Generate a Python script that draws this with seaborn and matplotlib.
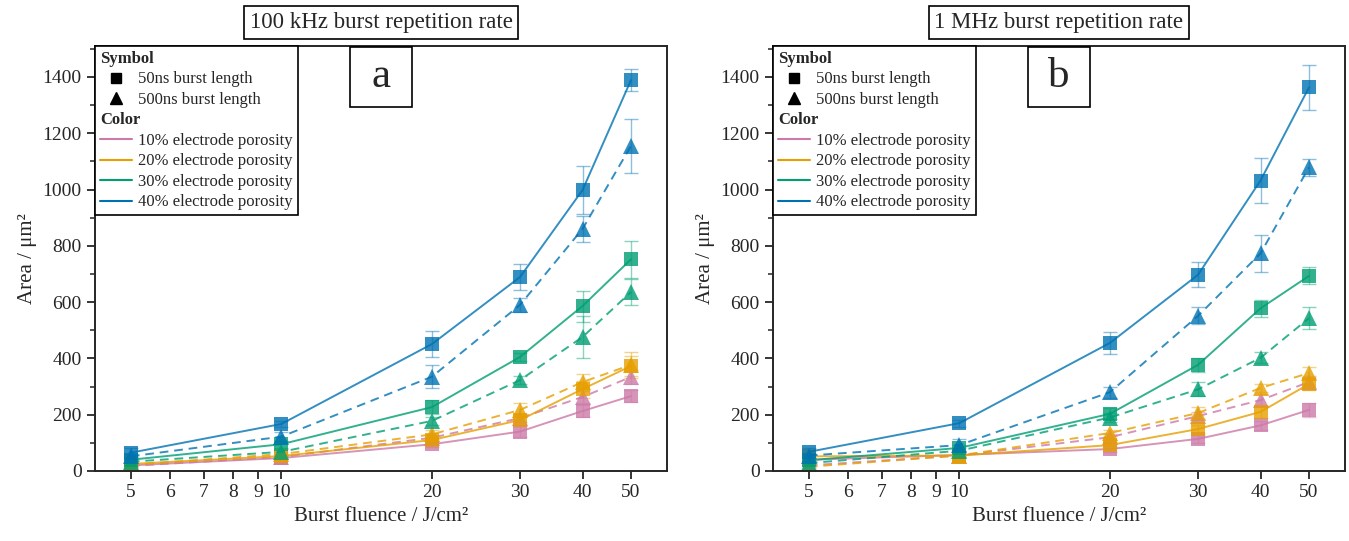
import numpy as np
import pandas as pd
import matplotlib
matplotlib.use("Agg")
import matplotlib.pyplot as plt
import matplotlib.ticker as mticker
from matplotlib.lines import Line2D
from matplotlib.patches import Rectangle
import seaborn as sns

fluence = [5, 10, 20, 30, 40, 50]
porosities = ["10%", "20%", "30%", "40%"]
lengths = ["50ns", "500ns"]
colors = ["#CC79A7", "#E69F00", "#009E73", "#0072B2"]

# 100 kHz panel: mean area and error per porosity / burst length
area_100k = {
    ("10%", "50ns"): [20, 46, 95, 140, 213, 266],
    ("10%", "500ns"): [18, 50, 118, 188, 263, 334],
    ("20%", "50ns"): [25, 53, 110, 181, 291, 373],
    ("20%", "500ns"): [22, 60, 130, 217, 316, 377],
    ("30%", "50ns"): [40, 95, 227, 405, 586, 752],
    ("30%", "500ns"): [33, 68, 178, 323, 476, 636],
    ("40%", "50ns"): [65, 167, 451, 689, 998, 1389],
    ("40%", "500ns"): [52, 122, 335, 590, 860, 1155],
}
err_100k = {
    ("10%", "50ns"): [5, 6, 10, 20, 20, 20],
    ("10%", "500ns"): [5, 6, 10, 15, 20, 25],
    ("20%", "50ns"): [5, 6, 12, 20, 30, 35],
    ("20%", "500ns"): [5, 6, 15, 25, 30, 45],
    ("30%", "50ns"): [8, 12, 25, 15, 55, 65],
    ("30%", "500ns"): [6, 10, 15, 15, 75, 45],
    ("40%", "50ns"): [15, 12, 45, 45, 85, 40],
    ("40%", "500ns"): [10, 15, 40, 25, 45, 95],
}

# 1 MHz panel
area_1m = {
    ("10%", "50ns"): [40, 57, 78, 114, 162, 217],
    ("10%", "500ns"): [20, 55, 120, 195, 252, 316],
    ("20%", "50ns"): [52, 55, 92, 149, 210, 309],
    ("20%", "500ns"): [15, 55, 135, 206, 295, 348],
    ("30%", "50ns"): [38, 82, 203, 377, 578, 693],
    ("30%", "500ns"): [28, 72, 190, 290, 402, 543],
    ("40%", "50ns"): [68, 170, 455, 697, 1032, 1363],
    ("40%", "500ns"): [55, 92, 280, 551, 773, 1079],
}
err_1m = {
    ("10%", "50ns"): [5, 5, 10, 15, 15, 25],
    ("10%", "500ns"): [5, 5, 10, 15, 20, 20],
    ("20%", "50ns"): [5, 5, 10, 15, 20, 20],
    ("20%", "500ns"): [5, 5, 10, 20, 15, 20],
    ("30%", "50ns"): [8, 10, 20, 25, 30, 30],
    ("30%", "500ns"): [6, 10, 15, 25, 20, 40],
    ("40%", "50ns"): [12, 12, 40, 45, 80, 80],
    ("40%", "500ns"): [10, 20, 20, 30, 65, 30],
}


def to_frame(area, err):
    rows = []
    for (p, l), vals in area.items():
        for x, v, e in zip(fluence, vals, err[(p, l)]):
            rows.append({"fluence": x, "area": v, "err": e, "porosity": p, "length": l})
    return pd.DataFrame(rows)


sns.set_style("ticks")
plt.rcParams["font.family"] = ["Liberation Serif", "DejaVu Serif"]

fig = plt.figure(figsize=(13.49, 5.41), dpi=100)
ax_a = fig.add_axes([0.0704, 0.1294, 0.4240, 0.7856])
ax_b = fig.add_axes([0.5730, 0.1294, 0.4240, 0.7856])

palette = dict(zip(porosities, colors))
markers = {"50ns": "s", "500ns": "^"}
dashes = {"50ns": "", "500ns": (4.5, 3)}

panels = [
    (ax_a, to_frame(area_100k, err_100k), "100 kHz burst repetition rate", "a"),
    (ax_b, to_frame(area_1m, err_1m), "1 MHz burst repetition rate", "b"),
]

for ax, df, title, letter in panels:
    # error bars first, lighter
    for (p, l), g in df.groupby(["porosity", "length"]):
        ax.errorbar(g["fluence"], g["area"], yerr=g["err"], fmt="none",
                    ecolor=palette[p], alpha=0.45, elinewidth=1.0, capsize=5, capthick=1.0)
    sns.lineplot(data=df, x="fluence", y="area", hue="porosity", style="length",
                 palette=palette, markers=markers, dashes=dashes, hue_order=porosities,
                 style_order=lengths, markersize=9.5, markeredgewidth=0, alpha=0.8,
                 linewidth=1.4, legend=False, ax=ax)
    for ln in ax.get_lines():
        if ln.get_marker() == "^":
            ln.set_markersize(11.5)

    ax.set_xscale("log")
    ax.set_xlim(4.24, 59.0)
    ax.set_ylim(0, 1510)
    ax.xaxis.set_major_locator(mticker.FixedLocator([5, 6, 7, 8, 9, 10, 20, 30, 40, 50]))
    ax.xaxis.set_major_formatter(mticker.FixedFormatter(["5", "6", "7", "8", "9", "10", "20", "30", "40", "50"]))
    ax.xaxis.set_minor_locator(mticker.NullLocator())
    ax.yaxis.set_major_locator(mticker.MultipleLocator(200))
    ax.yaxis.set_minor_locator(mticker.MultipleLocator(100))
    ax.tick_params(axis="both", which="major", direction="out", length=6, width=1.3, labelsize=14)
    ax.tick_params(axis="y", which="minor", direction="out", length=3.5, width=1.1)
    for s in ax.spines.values():
        s.set_linewidth(1.4)
    ax.set_xlabel("Burst fluence / J/cm²", fontsize=15)
    ax.set_ylabel("Area / μm²", fontsize=15)

    ax.set_title(title, fontsize=16.5, pad=13,
                 bbox=dict(boxstyle="square,pad=0.25", facecolor="white", edgecolor="black", linewidth=1.2))

    # panel letter in a box
    ax.add_patch(Rectangle((0.446, 0.857), 0.108, 0.141, transform=ax.transAxes,
                           facecolor="white", edgecolor="black", linewidth=1.2, zorder=5))
    ax.text(0.5, 0.927, letter, transform=ax.transAxes, ha="center", va="center",
            fontsize=31, zorder=6)

    blank = Line2D([], [], linestyle="none", marker=None)
    handles = [blank,
               Line2D([], [], color="black", marker="s", linestyle="none", markersize=7),
               Line2D([], [], color="black", marker="^", linestyle="none", markersize=8.5),
               blank]
    handles += [Line2D([], [], color=c, linewidth=1.5) for c in colors]
    labels = ["Symbol", "50ns burst length", "500ns burst length", "Color"]
    labels += [f"{p} electrode porosity" for p in porosities]
    leg = ax.legend(handles, labels, loc="upper left", bbox_to_anchor=(0.0, 1.0), fontsize=12,
                    frameon=True, fancybox=False, edgecolor="black", framealpha=1,
                    handlelength=1.95, handletextpad=0.35, labelspacing=0.27, borderaxespad=0,
                    borderpad=0.3)
    leg.get_frame().set_linewidth(1.2)
    leg.set_zorder(7)
    # pull the bold headers to the left edge
    for col in leg._legend_handle_box.get_children():
        for row in col.get_children():
            da, ta = row.get_children()
            if ta.get_text() in ("Symbol", "Color"):
                ta._text.set_fontweight("bold")
                da.width = 0
                row.sep = 0

fig.savefig("out.png", dpi=100)
